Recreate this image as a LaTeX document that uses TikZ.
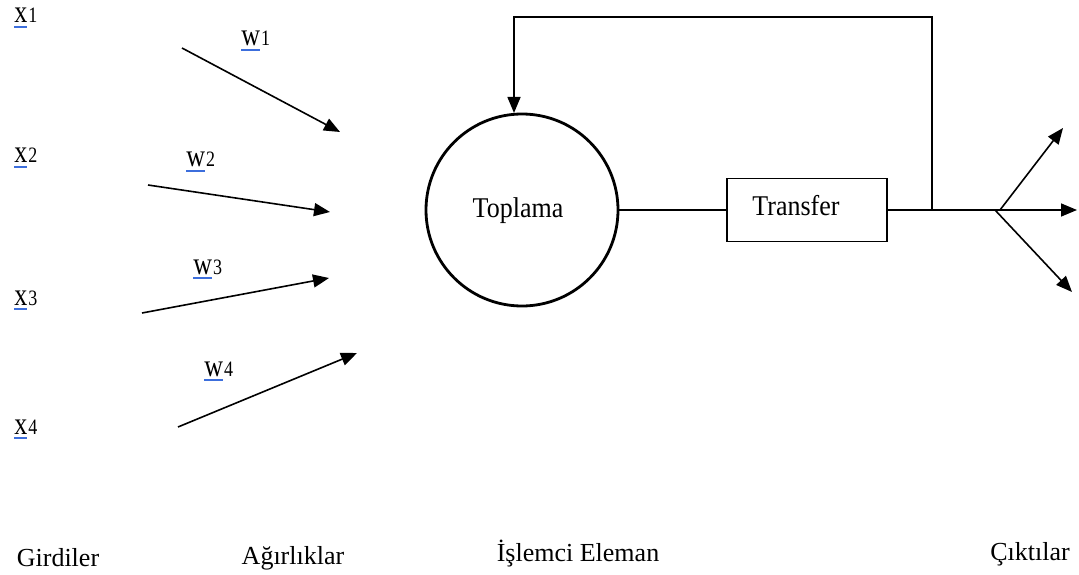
\documentclass[tikz,border=0pt]{standalone}
\usepackage{graphicx}
\usepackage{fontspec}
\setmainfont{Liberation Serif}
\usetikzlibrary{arrows.meta}
\definecolor{ulblue}{RGB}{60,110,220}
% variable label: letter with a blue underline, followed by its index
\newcommand{\ulvar}[2]{\scalebox{1}[1.22]{\tikz[baseline=0pt]{\node[inner sep=0pt,anchor=base west] (L) at (0,0) {\fontsize{26}{28}\selectfont #1};\draw[ulblue,line width=1.7pt] ([yshift=-3.2pt]L.base west) -- ([yshift=-3.2pt]L.base east);}{\fontsize{18}{20}\selectfont #2}}}
\tikzset{
  lbl/.style={inner sep=0pt,font=\fontsize{26}{30}\selectfont},
  arr/.style={line width=1.6pt,-{Triangle[length=16pt,width=13pt]}},
  ln/.style={line width=1.6pt},
}
\begin{document}
\begin{tikzpicture}[x=1pt,y=-1pt]
\useasboundingbox (0,0) rectangle (1079,575);

% inputs
\node[inner sep=0pt,anchor=base west] (x1) at (13,23) {\ulvar{x}{1}};
\node[inner sep=0pt,anchor=base west] (x2) at (13,163) {\ulvar{x}{2}};
\node[inner sep=0pt,anchor=base west] (x3) at (13,305) {\ulvar{x}{3}};
\node[inner sep=0pt,anchor=base west] (x4) at (13,434) {\ulvar{x}{4}};

% weights
\node[inner sep=0pt,anchor=base west] (w1) at (240,46) {\ulvar{w}{1}};
\node[inner sep=0pt,anchor=base west] (w2) at (185,167) {\ulvar{w}{2}};
\node[inner sep=0pt,anchor=base west] (w3) at (192,274) {\ulvar{w}{3}};
\node[inner sep=0pt,anchor=base west] (w4) at (203,376) {\ulvar{w}{4}};

\coordinate (s1) at (182,48);  \coordinate (e1) at (340,132);
\coordinate (s2) at (148,185); \coordinate (e2) at (330,212);
\coordinate (s3) at (142,313); \coordinate (e3) at (329,278);
\coordinate (s4) at (178,427); \coordinate (e4) at (357,353);
\draw[arr] (s1) -- (e1);
\draw[arr] (s2) -- (e2);
\draw[arr] (s3) -- (e3);
\draw[arr] (s4) -- (e4);

% processing element
\node[draw,circle,line width=2.8pt,minimum size=192pt,inner sep=0pt] (c) at (522,210) {};
\node[lbl,anchor=base] (ctext) at (518,217) {\scalebox{1}[1.1]{Toplama}};
\node[draw,ln,rectangle,minimum width=160pt,minimum height=63pt,inner sep=0pt] (t) at (807,210) {};
\node[lbl,anchor=base] (ttext) at (796,215) {\scalebox{1}[1.1]{Transfer}};
\draw[ln] (c.east) -- (t.west);

% output line, feedback loop and branching outputs
\coordinate (fb) at (932,210);
\coordinate (br) at (995,210);
\coordinate (tr) at (932,17);
\coordinate (tl) at (514,17);
\draw[ln] (t.east) -- (br);
\draw[arr] (fb) -- (tr) -- (tl) -- (tl |- c.95);
\coordinate (o1) at (1063,128);
\coordinate (o2) at (1077,210);
\coordinate (o3) at (1072,292);
\draw[arr] ([xshift=5pt]br) -- (o1);
\draw[arr] (br) -- (o2);
\draw[arr] (br) -- (o3);

% column captions
\node[lbl,anchor=base] (g) at (58,566) {Girdiler};
\node[lbl,anchor=base] (a) at (293,564) {Ağırlıklar};
\node[lbl,anchor=base] (p) at (578,561) {İşlemci Eleman};
\node[lbl,anchor=base] (o) at (1030,560) {Çıktılar};
\end{tikzpicture}
\end{document}
